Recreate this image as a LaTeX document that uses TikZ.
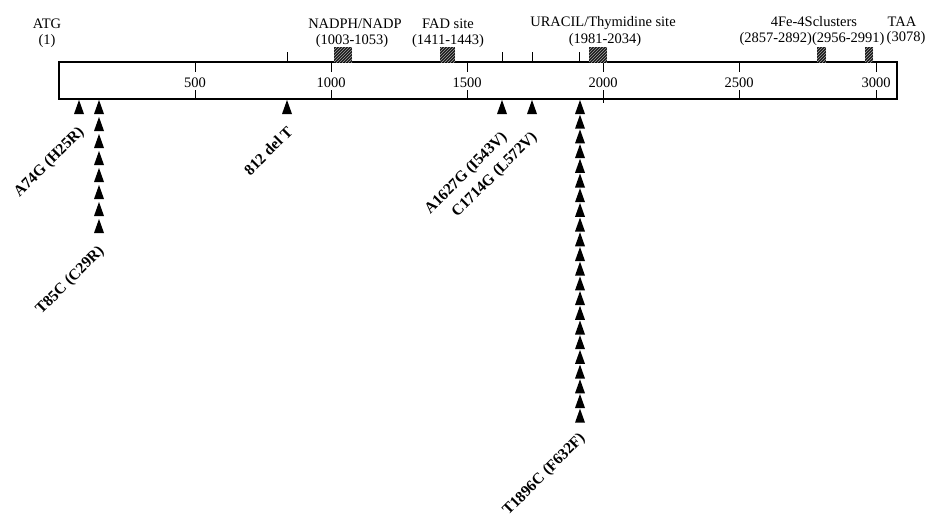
\documentclass[tikz,border=0pt]{standalone}
\usepackage{fontspec}
\setmainfont{Liberation Serif}
\usetikzlibrary{patterns}
\tikzset{
  lbl/.style={font=\fontsize{14.5}{16}\selectfont, inner sep=0pt, anchor=base},
  mut/.style={font=\fontsize{15.5}{17}\selectfont\bfseries, inner sep=0pt, anchor=east, rotate=45},
  tick/.style={line width=1pt},
  barline/.style={line width=1.3pt},
  tri/.pic={\fill (-5,14) -- (5,14) -- (0,0) -- cycle;},
  site/.style={fill=black!90}
}
\newcommand{\hatchbox}[3]{% x1 x2 name
  \fill[site] (#1,47) rectangle (#2,62);
  \fill[pattern=north east lines, pattern color=gray!70] (#1,47) rectangle (#2,62);
  \coordinate (#3) at ({(#1+#2)/2},47);
}
\begin{document}
\begin{tikzpicture}[x=1pt,y=-1pt]
\useasboundingbox (0,0) rectangle (927,522);
% bar
\draw[barline] (59,62) rectangle (897,99);
% scale ticks and labels
\foreach \xx/\t in {195/500,331/1000,467/1500,603/2000,739/2500,876/3000}{
  \draw[tick] (\xx,62) -- (\xx,72);
  \draw[tick] (\xx,90) -- (\xx,99);
  \node[lbl] (s\t) at (\xx,87) {\t};
}
\draw[tick] (603,99) -- (603,103);
% ticks above bar
\foreach \xx in {287,502,532,579}{
  \draw[tick] (\xx,52) -- (\xx,62);
}
% site boxes
\hatchbox{334}{352}{bnadph}
\hatchbox{440}{455}{bfad}
\hatchbox{589}{607}{buracil}
\hatchbox{817}{826}{bfe1}
\hatchbox{865}{873}{bfe2}
% top labels
\node[lbl] (atg) at (47,28) {ATG};
\node[lbl] (atgn) at (47,44) {(1)};
\node[lbl] (nadph) at (355,28) {NADPH/NADP};
\node[lbl] (nadphn) at (352,44) {(1003-1053)};
\node[lbl] (fad) at (448,28) {FAD site};
\node[lbl] (fadn) at (448,44) {(1411-1443)};
\node[lbl] (ura) at (603,27) {URACIL/Thymidine site};
\node[lbl] (uran) at (605,43) {(1981-2034)};
\node[lbl] (fe) at (814,26) {4Fe-4Sclusters};
\node[lbl] (fen) at (812,42) {(2857-2892)(2956-2991)};
\node[lbl] (taa) at (902,26) {TAA};
\node[lbl] (taan) at (906,41) {(3078)};
% mutation markers
\pic at (79,100) {tri};
\foreach \k in {0,...,7}{ \pic at (99,{100+\k*17}) {tri}; }
\pic at (287,100) {tri};
\pic at (502,100) {tri};
\pic at (532,100) {tri};
\foreach \k in {0,...,21}{ \pic at (580,{100+\k*14.7}) {tri}; }
% mutation labels
\node[mut] (m1) at (82,130) {A74G (H25R)};
\node[mut] (m2) at (102,249) {T85C (C29R)};
\node[mut] (m3) at (290,129) {812 del T};
\node[mut] (m4) at (505,135) {A1627G (I543V)};
\node[mut] (m5) at (535,135) {C1714G (L572V)};
\node[mut] (m6) at (583,436) {T1896C (F632F)};
\end{tikzpicture}
\end{document}
